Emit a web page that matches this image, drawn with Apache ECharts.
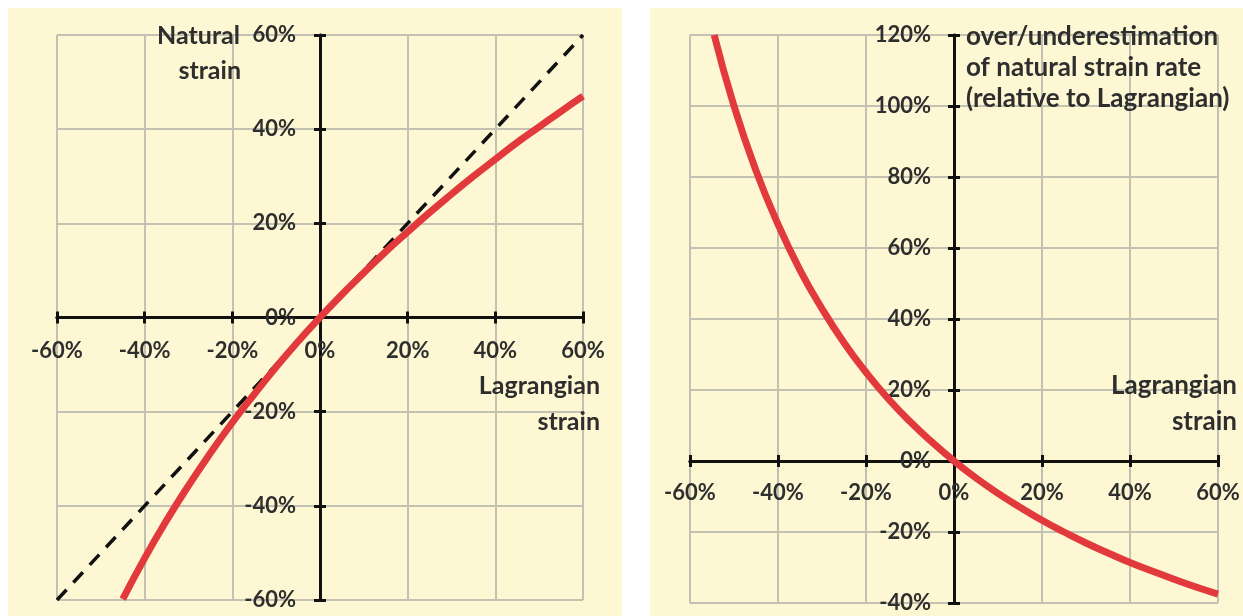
<!DOCTYPE html>
<html>
<head>
<meta charset="utf-8">
<script src="https://cdn.jsdelivr.net/npm/echarts@6/dist/echarts.min.js"></script>
<style>
  html, body { margin: 0; padding: 0; background: #fff; }
  #chart { width: 1243px; height: 616px; }
</style>
</head>
<body>
<div id="chart"></div>
<script>
// Lagrangian strain (%) sampled along the curves
const strainX = [-45, -40, -35, -30, -25, -20, -15, -10, -5, 0, 5, 10, 15, 20, 25, 30, 35, 40, 45, 50, 55, 60];
// natural strain (%)
const naturalStrain = [-59.8, -51.1, -43.1, -35.7, -28.8, -22.3, -16.3, -10.5, -5.1, 0, 4.9, 9.5, 14.0, 18.2, 22.3, 26.2, 30.0, 33.6, 37.2, 40.5, 43.8, 47.0];
// identity (dashed) line
const identityX = [-60, 60];
const identityY = [-60, 60];
// right panel: over/underestimation of natural strain rate (%)
const rateX = [-54.5, -50, -45, -40, -35, -30, -25, -20, -15, -10, -5, 0, 5, 10, 15, 20, 25, 30, 35, 40, 45, 50, 55, 60];
const rateY = [120, 100, 81.8, 66.7, 53.8, 42.9, 33.3, 25, 17.6, 11.1, 5.3, 0, -4.8, -9.1, -13.0, -16.7, -20, -23.1, -25.9, -28.6, -31.0, -33.3, -35.5, -37.5];

const font = 'Lato, "Open Sans", sans-serif';
const pct = v => v + '%';
const tickFont = { fontFamily: font, fontWeight: 'bold', fontSize: 22, color: '#2e2e2e' };
const split = { show: true, lineStyle: { color: '#c2c1b2', width: 2 } };
const axLine = { onZero: false, lineStyle: { color: '#111', width: 3 } };
const zip = (a, b) => a.map((v, i) => [v, b[i]]);

// each axis is drawn twice: once with outside ticks + labels, once with inside ticks,
// so the ticks cross the axis line
function axisPair(grid, pos, min, max, offset, margin) {
  const base = { type: 'value', gridIndex: grid, position: pos, offset: offset, min: min, max: max, interval: 20 };
  return [
    Object.assign({}, base, {
      axisLine: axLine,
      axisTick: { show: true, length: 6, lineStyle: { color: '#111', width: 3 } },
      axisLabel: Object.assign({ formatter: pct, margin: margin, hideOverlap: false }, tickFont),
      splitLine: split
    }),
    Object.assign({}, base, {
      axisLine: axLine,
      axisTick: { show: true, inside: true, length: 6, lineStyle: { color: '#111', width: 3 } },
      axisLabel: { show: false },
      splitLine: { show: false }
    })
  ];
}

function word(text, x, y, align, size) {
  return { type: 'text', x: x, y: y, z: 10,
    style: { text: text, align: align, verticalAlign: 'middle', fontFamily: font, fontWeight: 'bold', fontSize: size, fill: '#2e2e2e' } };
}

const chart = echarts.init(document.getElementById('chart'));

chart.setOption({
  backgroundColor: '#fff',
  animation: false,
  graphic: [
    { type: 'rect', z: -10, shape: { x: 8, y: 8, width: 614, height: 608 }, style: { fill: '#fdf8d3' } },
    { type: 'rect', z: -10, shape: { x: 650, y: 8, width: 593, height: 608 }, style: { fill: '#fdf8d3' } },
    word('Natural', 240, 36, 'right', 25),
    word('strain', 241, 71, 'right', 25),
    word('Lagrangian', 600, 386, 'right', 25),
    word('strain', 600, 422, 'right', 25),
    word('over/underestimation', 966, 37, 'left', 26),
    word('of natural strain rate', 966, 68, 'left', 26),
    word('(relative to Lagrangian)', 966, 99, 'left', 26),
    word('Lagrangian', 1237, 386, 'right', 26),
    word('strain', 1237, 422, 'right', 26)
  ],
  grid: [
    { left: 57, top: 35, width: 526, height: 565 },
    { left: 690, top: 35, width: 528, height: 568 }
  ],
  xAxis: axisPair(0, 'bottom', -60, 60, -282.5, 22).concat(axisPair(1, 'bottom', -60, 60, -142, 21)),
  yAxis: axisPair(0, 'left', -60, 60, -263, 24).concat(axisPair(1, 'left', -40, 120, -264, 23)),
  series: [
    { type: 'line', xAxisIndex: 0, yAxisIndex: 0, data: zip(identityX, identityY), showSymbol: false,
      lineStyle: { color: '#111', width: 3.5, type: [14, 10] }, z: 3 },
    { type: 'line', xAxisIndex: 0, yAxisIndex: 0, data: zip(strainX, naturalStrain), showSymbol: false, smooth: true,
      lineStyle: { color: '#e23a3c', width: 7 }, z: 4 },
    { type: 'line', xAxisIndex: 2, yAxisIndex: 2, data: zip(rateX, rateY), showSymbol: false, smooth: true,
      lineStyle: { color: '#e23a3c', width: 7 }, z: 4 }
  ]
});
</script>
</body>
</html>
